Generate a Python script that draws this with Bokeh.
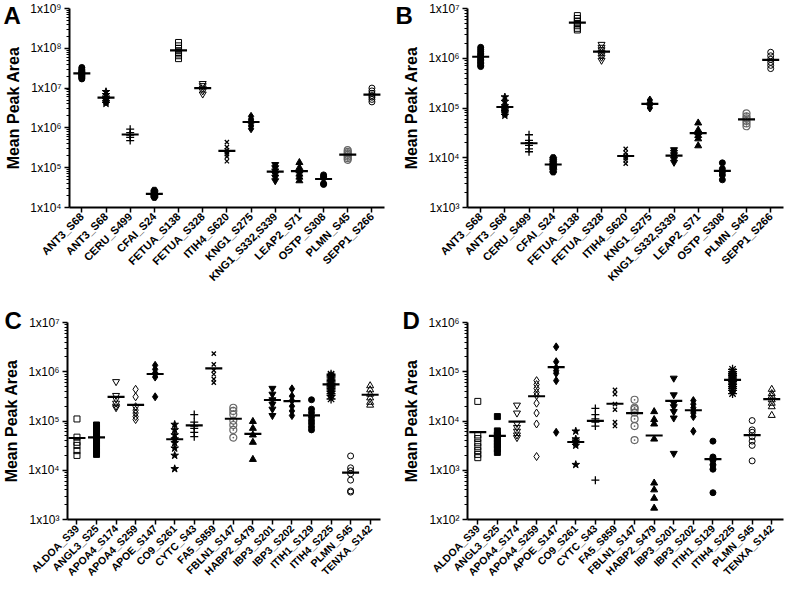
import numpy as np
from bokeh.plotting import figure
from bokeh.layouts import row, column
from bokeh.models import FixedTicker, CustomJSTickFormatter, Range1d
from bokeh.embed import file_html
from bokeh.resources import INLINE

# ---------------- data ----------------
cats_ab = ["ANT3_S68", "ANT3_S68", "CERU_S499", "CFAI_S24", "FETUA_S138",
           "FETUA_S328", "ITIH4_S620", "KNG1_S275", "KNG1_S332,S339",
           "LEAP2_S71", "OSTP_S308", "PLMN_S45", "SEPP1_S266"]

a_values = [
    [3.3e7, 3.0e7, 2.8e7, 2.6e7, 2.5e7, 2.4e7, 2.3e7, 2.2e7, 2.1e7, 2.0e7, 1.9e7, 1.8e7, 1.7e7],
    [8.1e6, 6.8e6, 5.9e6, 5.1e6, 4.5e6, 4.1e6],
    [9.3e5, 7.6e5, 6.6e5, 5.8e5, 4.8e5],
    [2.7e4, 2.5e4, 2.3e4, 2.2e4, 2.1e4, 2.0e4, 1.9e4, 1.8e4],
    [1.4e8, 1.15e8, 1.0e8, 8.7e7, 7.9e7, 7.2e7, 6.5e7, 5.5e7],
    [1.3e7, 1.15e7, 1.0e7, 8.5e6, 7.1e6],
    [4.4e5, 3.3e5, 2.75e5, 2.5e5, 2.2e5, 1.9e5, 1.45e5],
    [1.95e6, 1.66e6, 1.48e6, 1.29e6, 1.12e6, 9.5e5],
    [1.2e5, 1.0e5, 8.3e4, 6.9e4, 5.8e4, 4.7e4],
    [1.35e5, 1.0e5, 8.3e4, 6.9e4, 5.8e4, 4.7e4],
    [6.6e4, 6.0e4, 5.6e4, 4.0e4, 3.8e4],
    [2.75e5, 2.5e5, 2.3e5, 2.1e5, 1.9e5, 1.74e5, 1.58e5],
    [1.0e7, 8.5e6, 7.4e6, 6.5e6, 5.9e6, 5.2e6, 4.5e6],
]

b_values = [
    [1.66e6, 1.51e6, 1.38e6, 1.26e6, 1.17e6, 1.10e6, 1.02e6, 9.5e5, 8.9e5, 8.3e5, 7.8e5, 7.2e5, 6.8e5],
    [1.66e5, 1.35e5, 1.1e5, 1.0e5, 9.1e4, 8.5e4, 7.9e4, 7.1e4],
    [2.9e4, 2.24e4, 2.0e4, 1.78e4, 1.51e4, 1.32e4],
    [1.0e4, 9.1e3, 8.3e3, 7.6e3, 7.1e3, 6.6e3, 6.2e3, 5.8e3, 5.2e3],
    [7.2e6, 6.3e6, 5.6e6, 5.0e6, 4.5e6, 4.0e6, 3.7e6],
    [1.9e6, 1.66e6, 1.48e6, 1.32e6, 1.17e6, 1.05e6, 9.1e5],
    [1.51e4, 1.26e4, 1.1e4, 9.8e3, 8.9e3, 7.6e3],
    [1.45e5, 1.29e5, 1.2e5, 1.12e5, 1.0e5],
    [1.45e4, 1.29e4, 1.15e4, 1.02e4, 9.3e3, 8.1e3],
    [5.0e4, 3.6e4, 3.2e4, 2.8e4, 2.4e4, 1.74e4],
    [7.9e3, 6.0e3, 5.2e3, 4.5e3, 3.6e3],
    [7.8e4, 6.8e4, 6.2e4, 5.5e4, 4.9e4, 4.3e4],
    [1.32e6, 1.12e6, 9.5e5, 8.3e5, 7.2e5, 6.2e5],
]

cats_cd = ["ALDOA_S39", "ANGL3_S25", "APOA4_S174", "APOA4_S259", "APOE_S147",
           "CO9_S261", "CYTC_S43", "FA5_S859", "FBLN1_S147", "HABP2_S479",
           "IBP3_S201", "IBP3_S202", "ITIH1_S129", "ITIH4_S225", "PLMN_S45",
           "TENXA_S142"]

c_values = [
    [1.1e5, 4.7e4, 3.7e4, 3.2e4, 2.5e4, 2.0e4],
    [8.3e4, 7.2e4, 6.2e4, 5.4e4, 4.6e4, 3.9e4, 3.4e4, 2.9e4, 2.5e4, 2.1e4],
    [6.3e5, 3.3e5, 2.8e5, 2.3e5, 2.0e5, 1.86e5],
    [4.4e5, 3.1e5, 1.95e5, 1.66e5, 1.45e5, 1.23e5, 1.07e5],
    [1.35e6, 1.12e6, 9.5e5, 8.9e5, 7.8e5, 3.1e5],
    [8.5e4, 6.6e4, 5.2e4, 4.3e4, 3.6e4, 2.8e4, 2.0e4, 1.07e4],
    [1.35e5, 9.5e4, 7.9e4, 7.1e4, 5.9e4, 4.8e4],
    [2.34e6, 1.41e6, 1.07e6, 8.9e5, 7.1e5, 6.0e5],
    [1.86e5, 1.6e5, 1.35e5, 1.02e5, 8.3e4, 6.6e4, 4.6e4],
    [9.8e4, 7.1e4, 5.2e4, 3.7e4, 1.66e4],
    [4.6e5, 3.5e5, 2.7e5, 2.2e5, 1.74e5, 1.29e5],
    [4.5e5, 3.2e5, 2.6e5, 2.0e5, 1.6e5, 1.29e5],
    [2.7e5, 1.74e5, 1.48e5, 1.2e5, 1.02e5, 8.9e4, 7.6e4, 6.6e4],
    [8.9e5, 8.3e5, 7.8e5, 7.1e5, 6.6e5, 6.2e5, 5.8e5, 5.2e5, 4.9e5, 4.6e5, 4.3e5, 4.0e5, 3.6e5, 3.3e5, 2.8e5],
    [1.95e4, 1.12e4, 9.8e3, 8.5e3, 6.3e3, 3.8e3, 3.6e3],
    [5.2e5, 4.3e5, 3.5e5, 2.95e5, 2.4e5, 2.1e5],
]

d_values = [
    [2.5e4, 5.2e3, 4.4e3, 3.6e3, 3.0e3, 2.5e3, 2.1e3, 1.8e3],
    [1.23e4, 6.3e3, 5.2e3, 4.9e3, 4.3e3, 3.6e3, 3.2e3, 2.7e3, 2.3e3],
    [2.1e4, 1.45e4, 8.9e3, 7.4e3, 6.2e3, 5.2e3, 4.6e3],
    [6.6e4, 5.5e4, 4.6e4, 3.8e4, 3.3e4, 2.3e4, 1.45e4, 8.7e3, 1.9e3],
    [3.2e5, 1.6e5, 1.2e5, 1.05e5, 9.3e4, 6.6e4, 5.9e3],
    [6.2e3, 4.3e3, 3.9e3, 3.6e3, 3.2e3, 1.3e3],
    [1.8e4, 1.35e4, 1.1e4, 9.5e3, 7.9e3, 6.3e2],
    [4.3e4, 3.5e4, 2.2e4, 1.7e4, 9.5e3, 7.9e3],
    [2.7e4, 1.86e4, 1.74e4, 1.48e4, 1.1e4, 7.9e3, 4.1e3],
    [1.55e4, 1.07e4, 8.7e3, 4.3e3, 5.5e2, 4.0e2, 2.7e2, 1.7e2],
    [7.4e4, 3.4e4, 2.3e4, 1.95e4, 1.55e4, 1.15e4, 2.2e3],
    [2.6e4, 2.2e4, 1.86e4, 1.6e4, 1.45e4, 1.23e4, 6.2e3],
    [3.9e3, 1.86e3, 1.74e3, 1.6e3, 1.29e3, 1.05e3, 3.5e2],
    [1.12e5, 1.0e5, 9.1e4, 8.5e4, 7.9e4, 7.4e4, 6.8e4, 6.3e4, 5.9e4, 5.5e4, 5.0e4, 4.6e4, 4.2e4, 3.6e4],
    [1.02e4, 6.6e3, 5.9e3, 4.8e3, 3.9e3, 3.2e3, 1.55e3],
    [4.4e4, 3.6e4, 3.2e4, 2.7e4, 2.3e4, 1.95e4, 1.3e4],
]

# marker kind per category: (marker, style)  style: fill / open / line / dot
markers_ab = [("circle", "fill"), ("star", "fill"), ("cross", "line"), ("hex", "fill"),
              ("square", "open"), ("inverted_triangle", "open"), ("x", "line"),
              ("diamond", "fill"), ("inverted_triangle", "fill"), ("triangle", "fill"),
              ("circle", "fill"), ("circle_dot", "dot"), ("circle", "open")]
markers_cd = [("square", "open"), ("square", "fill"), ("inverted_triangle", "open"),
              ("diamond", "open"), ("diamond", "fill"), ("star", "fill"), ("cross", "line"),
              ("x", "line"), ("circle_dot", "dot"), ("triangle", "fill"),
              ("inverted_triangle", "fill"), ("diamond", "fill"), ("circle", "fill"),
              ("asterisk", "line"), ("circle", "open"), ("triangle", "open")]

SIZES = {"circle": 6, "hex": 7, "square": 6, "triangle": 7, "inverted_triangle": 7,
         "diamond": 8, "star": 8, "cross": 8, "x": 6, "asterisk": 9, "circle_dot": 7}

FONT = "Liberation Sans"
sup_js = """
const sup = {"0":"\u2070","1":"\u00b9","2":"\u00b2","3":"\u00b3","4":"\u2074",
             "5":"\u2075","6":"\u2076","7":"\u2077","8":"\u2078","9":"\u2079"};
const e = Math.round(Math.log10(tick));
return "1x10" + String(e).split("").map(c => sup[c]).join("");
"""


def make_panel(letter, cats, values, markers, ylo, yhi, xr, w, h, bl, br, bt, bb,
               cat_font, letter_offset, letter_standoff):
    p = figure(width=w, height=h, y_axis_type="log", output_backend="svg",
               toolbar_location=None, x_range=Range1d(*xr), y_range=Range1d(ylo, yhi),
               min_border_left=bl, min_border_right=br, min_border_top=bt,
               min_border_bottom=bb, title=letter)
    p.outline_line_color = None
    p.xgrid.visible = False
    p.ygrid.visible = False
    p.background_fill_color = "white"
    p.border_fill_color = "white"

    # panel letter (as the plot title, pulled over the left margin)
    p.title.text_font = FONT
    p.title.text_font_style = "bold"
    p.title.text_font_size = "24px"
    p.title.text_color = "black"
    p.title.align = "left"
    p.title.offset = letter_offset
    p.title.standoff = letter_standoff

    for i, (vals, (mk, st)) in enumerate(zip(values, markers)):
        xs = [i + 1] * len(vals)
        sz = SIZES[mk]
        if st == "fill":
            p.scatter(xs, vals, marker=mk, size=sz, fill_color="black", line_color="black",
                      line_width=1)
        elif st == "open":
            p.scatter(xs, vals, marker=mk, size=sz, fill_color="white", line_color="black",
                      line_width=1, fill_alpha=0)
        elif st == "line":
            p.scatter(xs, vals, marker=mk, size=sz, line_color="black", line_width=1.3)
        else:
            p.scatter(xs, vals, marker=mk, size=sz, fill_color="white", fill_alpha=0,
                      line_color="#666666", line_width=1.2)
    xpos = list(range(1, len(cats) + 1))
    means = [float(np.mean(v)) for v in values]
    p.scatter(xpos, means, marker="dash", size=17, line_color="black", line_width=2.2)

    # x axis
    p.xaxis.ticker = FixedTicker(ticks=xpos)
    p.xaxis.major_label_overrides = {i + 1: c for i, c in enumerate(cats)}
    p.xaxis.major_label_orientation = np.pi / 4
    p.xaxis.major_label_text_font = FONT
    p.xaxis.major_label_text_font_style = "bold"
    p.xaxis.major_label_text_font_size = cat_font
    p.xaxis.major_label_text_color = "black"
    p.xaxis.major_label_standoff = 2
    p.xaxis.major_tick_out = 5
    p.xaxis.major_tick_in = 0
    p.xaxis.minor_tick_line_color = None
    p.xaxis.axis_line_width = 2
    p.xaxis.major_tick_line_width = 1.5

    # y axis
    lo, hi = int(round(np.log10(ylo))), int(round(np.log10(yhi)))
    majors = [10.0 ** k for k in range(lo, hi + 1)]
    minors = [m * 10.0 ** k for k in range(lo, hi) for m in range(2, 10)]
    p.yaxis.ticker = FixedTicker(ticks=majors, minor_ticks=minors)
    p.yaxis.formatter = CustomJSTickFormatter(code=sup_js)
    p.yaxis.major_label_text_font = FONT
    p.yaxis.major_label_text_font_size = "12px"
    p.yaxis.major_label_text_color = "black"
    p.yaxis.major_label_standoff = 3
    p.yaxis.major_tick_out = 5
    p.yaxis.major_tick_in = 0
    p.yaxis.minor_tick_out = 3
    p.yaxis.minor_tick_in = 0
    p.yaxis.axis_line_width = 2
    p.yaxis.major_tick_line_width = 1.5
    p.yaxis.axis_label = "Mean Peak Area"
    p.yaxis.axis_label_text_font = FONT
    p.yaxis.axis_label_text_font_style = "bold"
    p.yaxis.axis_label_text_font_size = "16px"
    p.yaxis.axis_label_text_color = "black"
    p.yaxis.axis_label_standoff = 5
    return p


pa = make_panel("A", cats_ab, a_values, markers_ab, 1e4, 1e9, (0.49, 13.52),
                392, 292, 69, 8, 8, 85, "11px", -66, -40)
pb = make_panel("B", cats_ab, b_values, markers_ab, 1e3, 1e7, (0.454, 13.53),
                392, 292, 75, 1, 8, 85, "11px", -72, -40)
pc = make_panel("C", cats_cd, c_values, markers_cd, 1e3, 1e7, (0.515, 16.53),
                392, 293, 66, 12, 30, 63, "10.5px", -63, -23)
pd = make_panel("D", cats_cd, d_values, markers_cd, 1e2, 1e6, (0.475, 16.6),
                392, 293, 75, 1, 30, 63, "10.5px", -65, -23)

layout = column(row(pa, pb), row(pc, pd))

with open("out.html", "w", encoding="utf-8") as f:
    f.write(file_html(layout, INLINE))
